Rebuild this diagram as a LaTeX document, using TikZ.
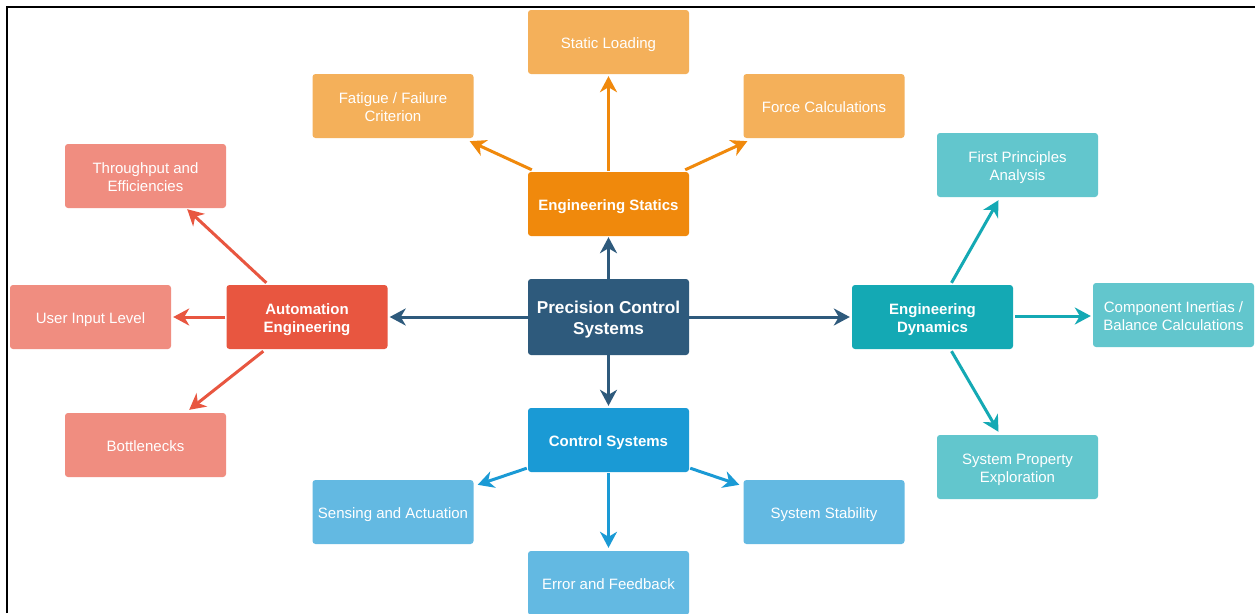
\documentclass[tikz,border=0pt]{standalone}
\usepackage{fontspec}
\setmainfont{Liberation Sans}
\usetikzlibrary{arrows.meta,calc}
\definecolor{cCen}{RGB}{46,90,124}
\definecolor{cSta}{RGB}{240,137,12}
\definecolor{cStaL}{RGB}{244,176,90}
\definecolor{cAut}{RGB}{232,86,64}
\definecolor{cAutL}{RGB}{240,141,128}
\definecolor{cDyn}{RGB}{20,169,180}
\definecolor{cDynL}{RGB}{98,198,205}
\definecolor{cCtl}{RGB}{26,154,213}
\definecolor{cCtlL}{RGB}{99,185,226}
\newcommand{\tx}[1]{\raisebox{-2.5pt}[\height][\depth]{\begin{tabular}{@{}c@{}}#1\end{tabular}}}
\tikzset{
  box/.style={rounded corners=3pt, minimum width=161pt, minimum height=64pt, inner sep=0pt, text=white, align=center},
  mainbox/.style={box, font=\fontsize{15}{18}\selectfont\bfseries},
  subbox/.style={box, font=\fontsize{15}{18}\selectfont},
  cenbox/.style={box, font=\fontsize{17.2}{21}\selectfont\bfseries, minimum height=76pt},
  arr/.style={line width=3pt, -{Stealth[length=16pt,width=17pt,inset=5pt]}}
}
\begin{document}
\begin{tikzpicture}[x=1pt,y=-1pt]
\useasboundingbox (0,0) rectangle (1255,613);
\fill[white] (0,0) rectangle (1255,613);
\draw[line width=1.8pt, black] (7,613) -- (7,7) -- (1255,7);

% central
\node[cenbox, fill=cCen] (cen) at (608.5,317) {\tx{Precision Control\\Systems}};

% statics
\node[mainbox, fill=cSta] (sta) at (608.5,204) {\tx{Engineering Statics}};
\node[subbox, fill=cStaL] (sload) at (608.5,42) {\tx{Static Loading}};
\node[subbox, fill=cStaL] (fat) at (393,106) {\tx{Fatigue / Failure\\Criterion}};
\node[subbox, fill=cStaL] (force) at (824,106) {\tx{Force Calculations}};

% automation
\node[mainbox, fill=cAut] (aut) at (307,317) {\tx{Automation\\Engineering}};
\node[subbox, fill=cAutL] (thr) at (145.5,176) {\tx{Throughput and\\Efficiencies}};
\node[subbox, fill=cAutL] (usr) at (90.5,317) {\tx{User Input Level}};
\node[subbox, fill=cAutL] (bot) at (145.5,445) {\tx{Bottlenecks}};

% dynamics
\node[mainbox, fill=cDyn] (dyn) at (932.5,317) {\tx{Engineering\\Dynamics}};
\node[subbox, fill=cDynL] (fpa) at (1017.5,165) {\tx{First Principles\\Analysis}};
\node[subbox, fill=cDynL] (cin) at (1173.5,315) {\tx{Component Inertias /\\Balance Calculations}};
\node[subbox, fill=cDynL] (spe) at (1017.5,467) {\tx{System Property\\Exploration}};

% control
\node[mainbox, fill=cCtl] (ctl) at (608.5,440) {\tx{Control Systems}};
\node[subbox, fill=cCtlL] (sen) at (393,512) {\tx{Sensing and Actuation}};
\node[subbox, fill=cCtlL] (stab) at (824,512) {\tx{System Stability}};
\node[subbox, fill=cCtlL] (err) at (608.5,583) {\tx{Error and Feedback}};

% central arrows
\draw[arr, cCen] (cen.north) -- ([yshift=-1pt]sta.south);
\draw[arr, cCen] (cen.south) -- ([yshift=2pt]ctl.north);
\draw[arr, cCen] (cen.west) -- ([xshift=2pt]aut.east);
\draw[arr, cCen] (cen.east) -- ([xshift=-2pt]dyn.west);

% statics arrows
\draw[arr, cSta] ([yshift=1pt]sta.north) -- ([yshift=-2pt]sload.south);
\draw[arr, cSta] ([xshift=4pt,yshift=2pt]sta.north west) -- ([xshift=-4pt,yshift=-3pt]fat.south east);
\draw[arr, cSta] ([xshift=-4pt,yshift=2pt]sta.north east) -- ([xshift=4pt,yshift=-3pt]force.south west);

% automation arrows
\draw[arr, cAut] ([xshift=40pt,yshift=2pt]aut.north west) -- ([xshift=-39pt,yshift=-1pt]thr.south east);
\draw[arr, cAut] ([xshift=-1pt]aut.west) -- ([xshift=2pt]usr.east);
\draw[arr, cAut] ([xshift=37pt,yshift=-2pt]aut.south west) -- ([xshift=-37pt,yshift=3pt]bot.north east);

% dynamics arrows
\draw[arr, cDyn] ([xshift=19pt,yshift=2pt]dyn.north) -- ([xshift=-19pt,yshift=-3pt]fpa.south);
\draw[arr, cDyn] ([xshift=2pt,yshift=1pt]dyn.east) -- ([xshift=-2pt,yshift=1pt]dyn.east -| cin.west);
\draw[arr, cDyn] ([xshift=19pt,yshift=-2pt]dyn.south) -- ([xshift=-19pt,yshift=3pt]spe.north);

% control arrows
\draw[arr, cCtl] ([xshift=-1pt,yshift=4pt]ctl.south west) -- ([xshift=4pt,yshift=-5pt]sen.north east);
\draw[arr, cCtl] ([xshift=1pt,yshift=4pt]ctl.south east) -- ([xshift=-4pt,yshift=-5pt]stab.north west);
\draw[arr, cCtl] ([yshift=-1pt]ctl.south) -- ([yshift=3pt]err.north);
\end{tikzpicture}
\end{document}
